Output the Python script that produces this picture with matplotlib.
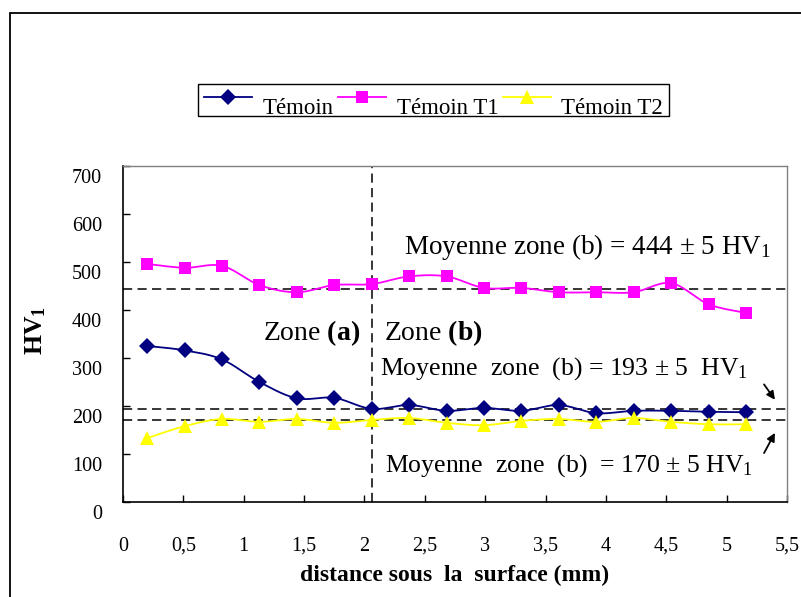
import numpy as np
import matplotlib
matplotlib.use('Agg')
import matplotlib.pyplot as plt
from matplotlib.patches import Rectangle
from matplotlib.transforms import ScaledTranslation

plt.rcParams['font.family'] = 'Liberation Serif'
plt.rcParams['mathtext.fontset'] = 'custom'
plt.rcParams['mathtext.rm'] = 'Liberation Serif'
plt.rcParams['mathtext.it'] = 'Liberation Serif:italic'
plt.rcParams['mathtext.bf'] = 'Liberation Serif:bold'

# hardness profiles (HV1) against depth below the surface (mm)
dist = [0.2, 0.51, 0.82, 1.13, 1.44, 1.75, 2.06, 2.37, 2.68, 2.99, 3.30, 3.61, 3.92, 4.23, 4.54, 4.85, 5.16]
temoin = [325, 316, 297, 250, 216, 217, 194, 202, 190, 196, 190, 202, 185, 190, 190, 188, 187]
temoin_t1 = [496, 488, 492, 452, 437, 452, 454, 470, 470, 446, 446, 437, 437, 437, 456, 412, 394]
temoin_t2 = [133, 158, 173, 167, 173, 165, 171, 175, 165, 160, 169, 173, 167, 175, 167, 162, 162]

series_names = ['Témoin', 'Témoin T1', 'Témoin T2']
zone_b_means = [193, 444, 170]
zone_limit = 2.06

x_ticks = [0, 0.5, 1, 1.5, 2, 2.5, 3, 3.5, 4, 4.5, 5, 5.5]
y_ticks = [0, 100, 200, 300, 400, 500, 600, 700]


def smooth(xs, ys, n=16):
    # excel-like smoothed line: bezier segments with catmull-rom control points
    p = np.column_stack([xs, ys]).astype(float)
    pe = np.vstack([p[0], p, p[-1]])
    t = np.linspace(0, 1, n, endpoint=False)[:, None]
    out = []
    for i in range(len(p) - 1):
        p0, p1, p2, p3 = pe[i], pe[i + 1], pe[i + 2], pe[i + 3]
        c1 = p1 + (p2 - p0) / 6
        c2 = p2 - (p3 - p1) / 6
        out.append((1 - t)**3 * p1 + 3 * (1 - t)**2 * t * c1 + 3 * (1 - t) * t**2 * c2 + t**3 * p2)
    out.append(p[-1:])
    return np.vstack(out), list(range(0, (len(p) - 1) * n + 1, n))


fig = plt.figure(figsize=(8.01, 5.97), dpi=100)
ax = fig.add_axes([123 / 801, 1 - 502 / 597, 664 / 801, 336 / 597])

styles = [
    dict(color='#000080', marker='D', markersize=8.5),
    dict(color='#FF00FF', marker='s', markersize=8.8),
    dict(color='#FFFF00', marker='^', markersize=10),
]
for vals, name, st in zip([temoin, temoin_t1, temoin_t2], series_names, styles):
    curve, idx = smooth(dist, vals)
    ax.plot(curve[:, 0], curve[:, 1], color=st['color'], lw=1.3, marker=st['marker'],
            markersize=st['markersize'], markevery=idx, markeredgewidth=0, label=name, zorder=3)

dash = (0, (6, 3.5))
for m in zone_b_means:
    ax.axhline(m, color='black', lw=1.1, linestyle=dash, zorder=2)
ax.axvline(zone_limit, color='black', lw=1.1, linestyle=dash, zorder=2)

ax.set_xlim(0, 5.5)
ax.set_ylim(0, 700)
ax.set_xticks(x_ticks)
ax.set_xticklabels([f'{v:g}'.replace('.', ',') for v in x_ticks])
ax.set_yticks(y_ticks)
ax.tick_params(direction='in', length=5, width=1, labelsize=14.5)
ax.tick_params(axis='x', pad=25)
ax.tick_params(axis='y', pad=15)
for sp in ['left', 'bottom']:
    ax.spines[sp].set_linewidth(1.2)
for sp in ['top', 'right']:
    ax.spines[sp].set_color('#808080')
    ax.spines[sp].set_linewidth(1.0)

# y tick labels sit a little below their ticks
shift = ScaledTranslation(0, -7.2 / 72, fig.dpi_scale_trans)
for tk in ax.yaxis.get_major_ticks():
    tk.label1.set_transform(tk.label1.get_transform() + shift)

ax.set_xlabel('distance sous  la  surface (mm)', fontsize=17, fontweight='bold', va='center')
ax.xaxis.set_label_coords(0.5, -0.22)
ax.set_ylabel(r'HV$_{\mathbf{1}}$', fontsize=18.5, fontweight='bold', va='center')
ax.yaxis.set_label_coords(-0.132, 0.51)

ax.text(2.33, 531, r'Moyenne zone (b) = 444 ± 5 HV$_1$', fontsize=19.5, va='center')
ax.text(1.16, 352, r'Zone $\mathbf{(a)}$', fontsize=20, va='center')
ax.text(2.16, 352, r'Zone $\mathbf{(b)}$', fontsize=20, va='center')
ax.text(2.13, 279, r'Moyenne  zone  (b) = 193 ± 5  HV$_1$', fontsize=18.5, va='center')
ax.text(2.17, 75, r'Moyenne  zone  (b)  = 170 ± 5 HV$_1$', fontsize=18.5, va='center')

arrow = dict(arrowstyle='-|>', color='black', lw=1.3, mutation_scale=12, shrinkA=0, shrinkB=0)
ax.annotate('', xy=(5.40, 213), xytext=(5.31, 245), arrowprops=arrow)
ax.annotate('', xy=(5.40, 144), xytext=(5.31, 102), arrowprops=arrow)

leg = fig.legend(loc='center', bbox_to_anchor=(433.5 / 801, 1 - 100 / 597), ncol=3,
                 fontsize=16.5, frameon=True, fancybox=False, framealpha=1,
                 edgecolor='black', borderpad=0.25, handlelength=2.1,
                 handletextpad=0.45, columnspacing=0.2, borderaxespad=0)
leg.get_frame().set_linewidth(1.0)
txt_shift = ScaledTranslation(0, -6 / 72, fig.dpi_scale_trans)
for t in leg.get_texts():
    t.set_transform(t.get_transform() + txt_shift)

# outer chart frame
fig.add_artist(Rectangle((10 / 801, -0.1), 1.0, 1.1 - 13 / 597, transform=fig.transFigure,
                         fill=False, ec='black', lw=1.3))

fig.savefig('out.png', dpi=100)
